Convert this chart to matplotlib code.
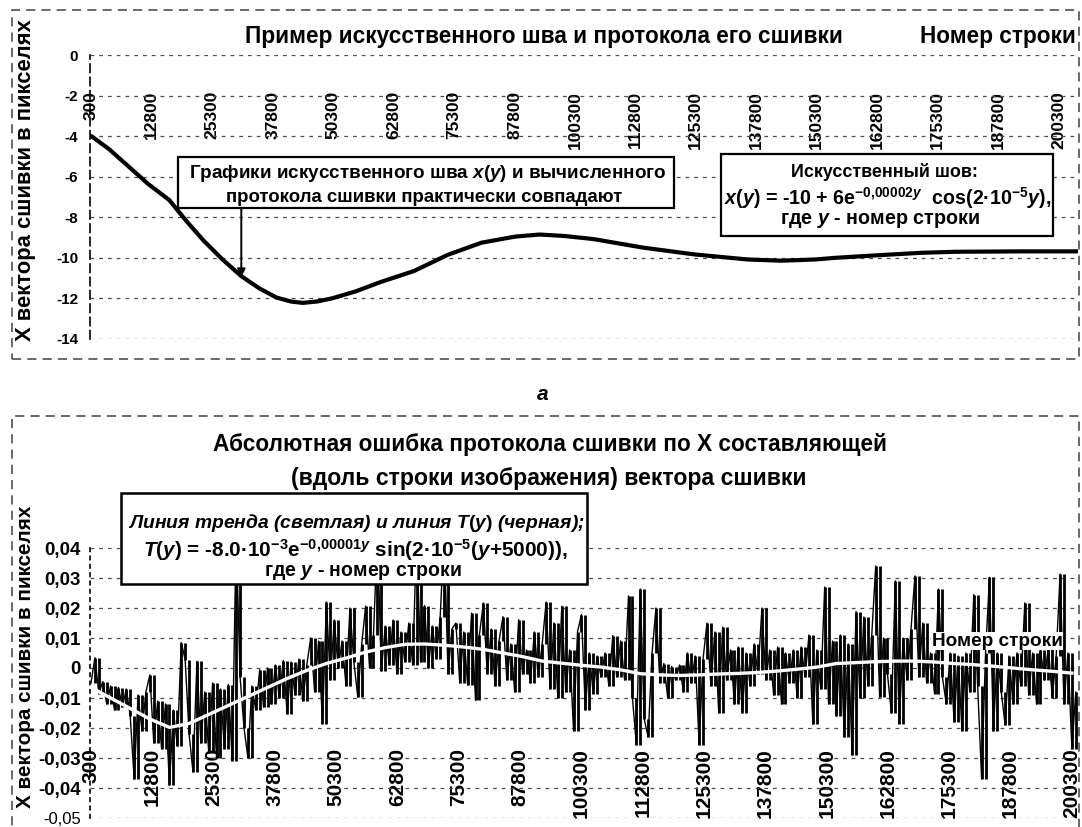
import numpy as np
import matplotlib
matplotlib.use("Agg")
import matplotlib.pyplot as plt
from matplotlib.patches import Rectangle

plt.rcParams['font.family'] = ['Liberation Sans', 'DejaVu Sans']
plt.rcParams['font.weight'] = 'bold'
plt.rcParams['mathtext.fontset'] = 'custom'
plt.rcParams['mathtext.rm'] = 'Liberation Sans:bold'
plt.rcParams['mathtext.it'] = 'Liberation Sans:italic:bold'
plt.rcParams['mathtext.bf'] = 'Liberation Sans:bold'

W, H = 1082, 827

# ---- top panel: artificial seam x(y)
SEAM_ROW = [300, 4000, 8000, 12000, 16400, 20000, 23500, 27500, 31300, 35000,
            38500, 41500, 44000, 47000, 50000, 55000, 60000, 67000, 74000, 81000,
            88000, 93000, 98000, 104000, 114500, 125000, 136000, 143000, 150000, 154000,
            164500, 172000, 179000, 193000, 204300]
SEAM_X = [-4.0, -4.65, -5.5, -6.35, -7.15, -8.2, -9.15, -10.1, -10.9, -11.5,
          -11.95, -12.15, -12.22, -12.15, -12.0, -11.65, -11.2, -10.65, -9.85, -9.25,
          -8.95, -8.85, -8.92, -9.07, -9.5, -9.83, -10.08, -10.14, -10.08, -10.0,
          -9.85, -9.75, -9.7, -9.68, -9.68]
SEAM_YTICKS = [0, -2, -4, -6, -8, -10, -12, -14]

ROW_TICKS = [300, 12800, 25300, 37800, 50300, 62800, 75300, 87800, 100300,
             112800, 125300, 137800, 150300, 162800, 175300, 187800, 200300]

# ---- bottom panel: absolute error (thousandths of a pixel), one value per 800 rows
ERR_ROW0, ERR_STEP = 300, 800
ERR_MILLI = [
    -5, 3.4, -8.5, -4.5, -12, -6, -14, -6.5, -13, -7,
    -16, -37, -9, -21, -8, -2.3, -25, -11, -27, -12,
    -39, -14, -26, 8.5, 2.8, -22, -34.7, 2.2, -25, -8,
    -28, -5, -30, -7, -27, -5.5, -31, 45, -3, -20,
    -30, -6, -14, -0.6, -13, 0, -12, 1, -10, 2.5,
    -15.3, 2, -9, 3, -11, 1, 10, -8, 9, -18.5,
    22, -4, 16, 0, 9, -6, 20, 2, -9.7, 8,
    20.6, 0, 11, 45, -1, 14, 1, 16, -2, 12,
    2, 15, 1, 45, 2, 20.8, 0, 14, 3, 17,
    45, -2, 13, 15, -5, 12, -5.7, 18.3, -10.8, 11,
    21.7, -2, 13, -6, 9, 17.1, -4, 8, -8, 16.1,
    -2, 6, -5, 12, -3, 8, 22, -7, 15, -10,
    20.6, -8, 6, -21, 12, 17.8, -14, 5, -8.5, 4,
    -3, 5, -6, 10.8, -3, 9, -4, 24, -10, -25.6,
    26.3, -17, -23, 5, 20, -5, 1.5, -10, 0.5, -4,
    1, -8, 5, -5, 4, -25.6, 3, 15, -6, 12,
    -15, 13.6, -4, 6, -12, 7, -15, 5, -6, 8,
    -2, 20, -4, 6, -9, 7, -12, 5, -5, 6,
    -10, 7, -3, 11, -18.8, 6, -7, 27, -12, 9,
    -16, 11, -23, 8, -29, 18.8, -10, 17, -6, 11,
    34, -9.7, 10, -2, -15, 29, -18.5, 10, -4, 13,
    30.7, -3, 15, -5, 5, -8.5, 26.3, -3, -12, 5,
    -18, 4, -21, 5, -8, 24.5, -6, -37, 5, 30.2,
    -21, 5, -8, -19, 4, -12, 5, -6, 21.7, -9,
    5, -12, 6, -4, 7, -10, 4, 31.3, -12, 5,
    -27, -8]
# light trend line, read every 4000 rows
TREND_ROW0, TREND_STEP = 300, 4000
TREND_MILLI = [-6.5, -10, -13.5, -17, -19.8, -18.5, -15.5, -12.5, -9.5, -6.5,
               -3.5, -0.8, 1.5, 3.3, 5.3, 6.8, 7.9, 8.0, 7.6, 7.0,
               6.2, 5.0, 3.8, 2.3, 1.6, 0.9, 0.3, -0.6, -1.9, -2.3,
               -2.5, -2.3, -2.0, -1.8, -1.5, -1.0, -0.4, 0.3, 1.5, 1.8,
               2.1, 2.3, 2.3, 2.0, 1.5, 1.1, 0.6, 0.0, -0.6, -1.1, -1.7]
ERR_YTICKS = [-0.05, -0.04, -0.03, -0.02, -0.01, 0, 0.01, 0.02, 0.03, 0.04]
ERR_YLABELS = ['-0,05', '-0,04', '-0,03', '-0,02', '-0,01', '0',
               '0,01', '0,02', '0,03', '0,04']

fig = plt.figure(figsize=(W / 100, H / 100), dpi=100)
fig.patch.set_facecolor('white')
rend = fig.canvas.get_renderer()


def ftext(x, y, s, width=None, size=12, rot=0, **kw):
    t = fig.text(x / W, 1 - y / H, s, ha=kw.pop('ha', 'center'), va='center',
                 fontsize=size, rotation=rot, **kw)
    if width:
        bb = t.get_window_extent(rend)
        ext = bb.height if rot else bb.width
        t.set_fontsize(size * width / ext)
    return t


def frect(x0, y0, x1, y1, **kw):
    r = Rectangle((x0 / W, 1 - y1 / H), (x1 - x0) / W, (y1 - y0) / H,
                  transform=fig.transFigure, **kw)
    fig.add_artist(r)
    return r


def row_axis(ax, label_pos, size):
    # rotated row-number labels hanging under the zero line, no tick marks
    ax.spines['bottom'].set_position(('axes', label_pos))
    for s in ('top', 'right', 'bottom'):
        ax.spines[s].set_visible(False)
    ax.set_xticks(ROW_TICKS)
    ax.set_xticklabels([str(v) for v in ROW_TICKS])
    ax.tick_params(axis='x', length=0, pad=0, labelrotation=90, labelsize=size)


grid_kw = dict(color='0.3', linestyle=(0, (3, 4)), linewidth=0.9)

# chart-area borders (dashed, as in the scan)
frect(12, 10, 1079, 359, fc='none', ec='0.25', lw=1.1, ls=(0, (6, 4)), zorder=1)
frect(12, 416, 1079, 840, fc='none', ec='0.25', lw=1.1, ls=(0, (6, 4)), zorder=1)

# ---------------- top panel
ax1 = fig.add_axes([90 / W, 1 - 339 / H, 988 / W, 284 / H])
ax1.set_facecolor('none')
row_axis(ax1, 0.873, 12.5)
ax1.plot(SEAM_ROW, SEAM_X, color='black', lw=3, solid_capstyle='round', zorder=3)
ax1.set_xlim(10, 204330)
ax1.set_ylim(-14, 0)
ax1.set_yticks(SEAM_YTICKS)
ax1.set_yticklabels([str(v) for v in SEAM_YTICKS])
ax1.tick_params(axis='y', length=0, pad=8.6, labelsize=11)
ax1.yaxis.grid(True, **grid_kw)
ax1.spines['left'].set_linestyle((0, (5, 3)))
ax1.spines['left'].set_linewidth(1.2)
ax1.annotate('', xy=(31300, -10.95), xytext=(31300, -7.5),
             arrowprops=dict(arrowstyle='-|>', color='black', lw=1.4,
                             mutation_scale=12, shrinkA=0, shrinkB=0), zorder=4)

t_top = ftext(544, 36, 'Пример искусственного шва и протокола его сшивки', width=593)
ftext(1076, 36, 'Номер строки', size=t_top.get_fontsize(), ha='right')
ftext(26, 180, 'X вектора сшивки в пикселях', width=321, rot=90)

frect(178, 157, 674, 208, fc='white', ec='black', lw=1.6, zorder=5)
ftext(428, 174, 'Графики искусственного шва $x(y)$ и вычисленного', width=477, zorder=6)
ftext(424, 197, 'протокола сшивки практически совпадают', width=396, zorder=6)

frect(721, 154, 1053, 236, fc='white', ec='black', lw=1.6, zorder=5)
ftext(884, 172, 'Искусственный шов:', width=186, zorder=6)
ftext(888, 198, r'$x(y)$ = -10 + 6e$^{-0{,}00002y}$  cos(2·10$^{-5}$$y$),', width=326, zorder=6)
ftext(880, 221, 'где $y$ - номер строки', width=200, zorder=6)

ftext(543, 394, 'a', size=15, fontstyle='italic')

# ---------------- bottom panel
ax2 = fig.add_axes([90 / W, 1 - 818 / H, 988 / W, 270 / H])
ax2.set_facecolor('none')
row_axis(ax2, 0.26, 15)
err_rows = np.arange(len(ERR_MILLI)) * ERR_STEP + ERR_ROW0
err = np.array(ERR_MILLI) / 1000
trend_rows = np.arange(len(TREND_MILLI)) * TREND_STEP + TREND_ROW0
# dense line chart of the error: each step drawn as a vertical stroke
ax2.vlines(err_rows[1:], err[:-1], err[1:], color='black', lw=2.0, zorder=3)
ax2.plot(err_rows, err, color='black', lw=1.0, zorder=3)
ax2.plot(trend_rows, np.array(TREND_MILLI) / 1000, color='white', lw=2.4, zorder=4)
ax2.set_xlim(96, 201550)
ax2.set_ylim(-0.05, 0.04)
ax2.set_yticks(ERR_YTICKS)
ax2.set_yticklabels(ERR_YLABELS)
ax2.tick_params(axis='y', length=0, pad=6.5, labelsize=13.5)
lab05 = ax2.get_yticklabels()[0]
lab05.set_fontweight('normal')
lab05.set_fontsize(12)
ax2.yaxis.grid(True, **grid_kw)
ax2.spines['left'].set_linestyle((0, (2, 3)))
ax2.spines['left'].set_linewidth(1.2)

ftext(550, 445, 'Абсолютная ошибка протокола сшивки по X составляющей', width=672)
ftext(549, 478, '(вдоль строки изображения) вектора сшивки', width=512)
ftext(26, 657, 'X вектора сшивки в пикселях', width=300, rot=90)
ftext(997, 641, 'Номер строки', width=130, zorder=6,
      bbox=dict(fc='white', ec='none', pad=0.5))

frect(121, 493, 587, 584, fc='white', ec='black', lw=1.8, zorder=5)
ftext(356, 523, 'Линия тренда (светлая) и линия $T(y)$ (черная);', width=456,
      fontstyle='italic', zorder=6)
ftext(355, 550, r'$T(y)$ = -8.0·10$^{-3}$e$^{-0{,}00001y}$ sin(2·10$^{-5}$($y$+5000)),',
      width=425, zorder=6)
ftext(363, 573, 'где $y$ - номер строки', width=198, zorder=6)

fig.savefig('out.png', dpi=100, facecolor='white')
